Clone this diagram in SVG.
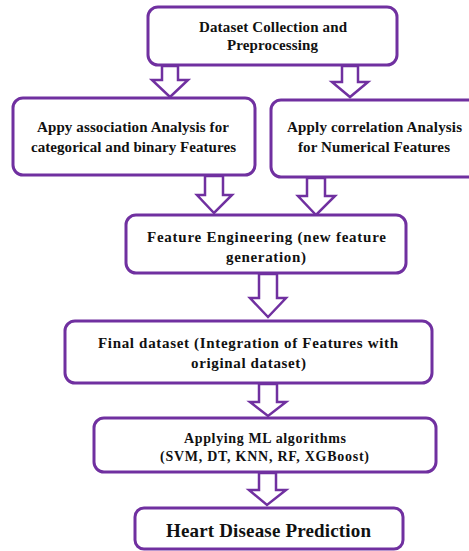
<svg xmlns="http://www.w3.org/2000/svg" width="469" height="551" viewBox="0 0 469 551">
<style>
.box{fill:#fff;stroke:#7030A0;stroke-width:3}
.arr{fill:#fff;stroke:#7030A0;stroke-width:2.5;stroke-linejoin:miter}
text{font-family:"Liberation Serif","Times New Roman",serif;font-weight:bold;fill:#111;text-anchor:middle}
.t{font-size:15px}
.s{font-size:14px}
.l{font-size:19px}
</style>
<rect width="469" height="551" fill="#fff"/>
<g id="connectors">
<polygon class="arr" points="162,66 178,66 178,80 188,80 170,97 152,80 162,80"/>
<polygon class="arr" points="342,66 358,66 358,82 368,82 350,97 332,82 342,82"/>
<polygon class="arr" points="205,176 223,176 223,195 232,195 214,213 197,195 205,195"/>
<polygon class="arr" points="307,178 325,178 325,196 335,196 316,215 298,196 307,196"/>
<polygon class="arr" points="259,274 277,274 277,298 286,298 268,317 250,298 259,298"/>
<polygon class="arr" points="259,384 277,384 277,402 286,402 268,416 250,402 259,402"/>
<polygon class="arr" points="259,473 276,473 276,490 286,490 267,505 249,490 259,490"/>
</g>
<g id="n1">
<rect class="box" x="148" y="7" width="249" height="58" rx="10"/>
<text class="t" x="273" y="32" textLength="148">Dataset Collection and</text>
<text class="t" x="272.5" y="50" textLength="91">Preprocessing</text>
</g>
<g id="n2">
<rect class="box" x="13" y="98" width="242" height="77" rx="10"/>
<text class="t" x="133" y="132" textLength="192">Appy association Analysis for</text>
<text class="t" x="133.5" y="152" textLength="205">categorical and binary Features</text>
</g>
<g id="n3">
<rect class="box" x="271" y="100" width="210" height="77" rx="10"/>
<text class="t" x="374.5" y="132" textLength="175">Apply correlation Analysis</text>
<text class="t" x="374" y="152" textLength="152">for Numerical Features</text>
</g>
<g id="n4">
<rect class="box" x="126" y="215" width="280" height="58" rx="10"/>
<text class="t" x="266.5" y="242" textLength="239">Feature Engineering (new feature</text>
<text class="t" x="266" y="262" textLength="80">generation)</text>
</g>
<g id="n5">
<rect class="box" x="65" y="321" width="367" height="62" rx="10"/>
<text class="t" x="248" y="348" textLength="300">Final dataset (Integration of Features with</text>
<text class="t" x="248.5" y="368" textLength="115">original dataset)</text>
</g>
<g id="n6">
<rect class="box" x="94" y="418" width="342" height="54" rx="10"/>
<text class="s" x="265" y="443" textLength="162">Applying ML algorithms</text>
<text class="s" x="264.5" y="461" textLength="209">(SVM, DT, KNN, RF, XGBoost)</text>
</g>
<g id="n7">
<rect class="box" x="135" y="508" width="268" height="41" rx="9"/>
<text class="l" x="268.5" y="537" textLength="205">Heart Disease Prediction</text>
</g>
</svg>
